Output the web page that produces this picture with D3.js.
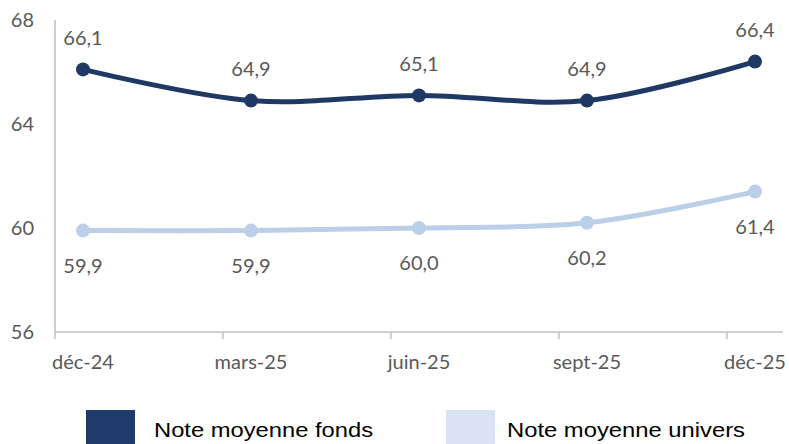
<!DOCTYPE html>
<html><head><meta charset="utf-8">
<script src="https://cdn.jsdelivr.net/npm/d3@7"></script>
<style>html,body{margin:0;padding:0;background:#fff;}svg{display:block;}</style>
</head><body>
<svg id="c" width="789" height="444"></svg>
<script>
const categories = ["déc-24","mars-25","juin-25","sept-25","déc-25"];
const fonds = [66.1, 64.9, 65.1, 64.9, 66.4];
const univers = [59.9, 59.9, 60.0, 60.2, 61.4];
const yTicks = [56, 60, 64, 68];
const seriesNames = ["Note moyenne fonds", "Note moyenne univers"];

const svg = d3.select("#c");
const x = d3.scalePoint().domain(categories).range([83, 755]);
const y = d3.scaleLinear().domain([56, 68]).range([332, 20]);
const txt = "#595959", axisCol = "#bfbfbf";
const font = "Lato, 'Open Sans', sans-serif";

// axes
svg.append("line").attr("x1",55).attr("x2",55).attr("y1",y(68)).attr("y2",y(56))
  .attr("stroke",axisCol).attr("stroke-width",1.5);
svg.append("line").attr("x1",55).attr("x2",783).attr("y1",y(56)).attr("y2",y(56))
  .attr("stroke",axisCol).attr("stroke-width",1.5);
categories.forEach(c => {
  svg.append("line").attr("x1",x(c)-28).attr("x2",x(c)-28).attr("y1",y(56)).attr("y2",y(56)+7)
    .attr("stroke",axisCol).attr("stroke-width",1.5);
});
svg.selectAll(".yl").data(yTicks).enter().append("text")
  .attr("x",34).attr("y",d=>y(d)).attr("dy","0.36em").attr("text-anchor","end")
  .attr("font-family",font).attr("font-size",20).attr("fill",txt).text(d=>d);
svg.selectAll(".xl").data(categories).enter().append("text")
  .attr("x",d=>x(d)).attr("y",362).attr("dy","0.36em").attr("text-anchor","middle")
  .attr("font-family",font).attr("font-size",20).attr("fill",txt).text(d=>d);

const line = d3.line().x((d,i)=>x(categories[i])).y(d=>y(d)).curve(d3.curveCatmullRom.alpha(0.5));
const fmt = v => v.toFixed(1).replace(".", ",");

function drawSeries(vals, color, labelAbove) {
  svg.append("path").datum(vals).attr("d",line).attr("fill","none")
    .attr("stroke",color).attr("stroke-width",5).attr("stroke-linecap","round");
  svg.selectAll(null).data(vals).enter().append("circle")
    .attr("cx",(d,i)=>x(categories[i])).attr("cy",d=>y(d)).attr("r",7).attr("fill",color);
  svg.selectAll(null).data(vals).enter().append("text")
    .attr("x",(d,i)=>x(categories[i])).attr("y",d=>y(d)+(labelAbove?-32:35)).attr("dy","0.36em")
    .attr("text-anchor","middle").attr("font-family",font).attr("font-size",20).attr("fill",txt)
    .text(fmt);
}
drawSeries(univers, "#bccfe8", false);
drawSeries(fonds, "#1f3864", true);

// legend
const legend = [
  {name: seriesNames[0], color: "#1f3b6b", x: 86, tx: 154, len: 219},
  {name: seriesNames[1], color: "#dae3f3", x: 446, tx: 507, len: 238}
];
legend.forEach(l => {
  svg.append("rect").attr("x",l.x).attr("y",410).attr("width",49).attr("height",40).attr("fill",l.color);
  svg.append("text").attr("x",l.tx).attr("y",437).attr("font-family","'Liberation Sans', Arial, sans-serif")
    .attr("font-size",21).attr("fill","#000").attr("textLength",l.len).attr("lengthAdjust","spacingAndGlyphs")
    .text(l.name);
});
</script>
</body></html>
